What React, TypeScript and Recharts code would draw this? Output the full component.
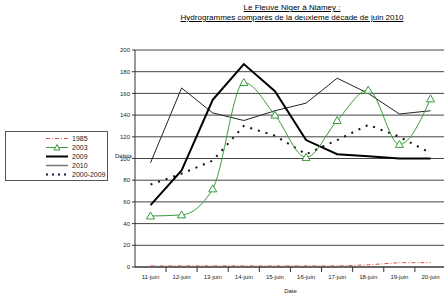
import React from 'react';
import {
  LineChart,
  Line,
  XAxis,
  YAxis,
  CartesianGrid,
} from 'recharts';

const days = [
  '11-juin', '12-juin', '13-juin', '14-juin', '15-juin',
  '16-juin', '17-juin', '18-juin', '19-juin', '20-juin',
];
const y1985 = [1, 1, 1, 1, 1, 1, 1, 2, 4, 4];
const y2003 = [47, 48, 72, 170, 140, 101, 135, 163, 113, 155];
const y2009 = [57, 89, 154, 187, 162, 117, 104, 102, 100, 100];
const y2010 = [96, 165, 142, 135, 144, 151, 174, 160, 141, 144];
const avg2000_2009 = [76, 86, 98, 130, 121, 104, 117, 131, 120, 105];
const yTicks = [0, 20, 40, 60, 80, 100, 120, 140, 160, 180, 200];

const data = days.map((d, i) => ({
  day: d,
  y1985: y1985[i],
  y2003: y2003[i],
  y2009: y2009[i],
  y2010: y2010[i],
  avg: avg2000_2009[i],
}));

const font = 'Liberation Sans, Arial, sans-serif';
const band = 31;

const Triangle = (props: any) => {
  const { cx, cy } = props;
  if (cx == null || cy == null) return null;
  return (
    <path
      d={`M${cx},${cy - 4} L${cx + 4},${cy + 3} L${cx - 4},${cy + 3} Z`}
      fill="#fff"
      stroke="#3a9a3a"
      strokeWidth={1}
    />
  );
};

const XTick = (props: any) => {
  const { x, y, payload } = props;
  return (
    <g>
      <line x1={x + band / 2} y1={y - 8} x2={x + band / 2} y2={y - 3} stroke="#333" />
      <text x={x} y={y + 4} textAnchor="middle" fontSize={6} fill="#222" fontFamily={font}>
        {payload.value}
      </text>
    </g>
  );
};

const legendItems = [
  { name: '1985', color: '#e05050', dash: '4 2 1 2', width: 1 },
  { name: '2003', color: '#3a9a3a', dash: undefined, width: 1, marker: true },
  { name: '2009', color: '#000', dash: undefined, width: 2 },
  { name: '2010', color: '#777', dash: undefined, width: 1.5 },
  { name: '2000-2009', color: '#1a1a40', dash: '2 4', width: 2 },
];

const LegendBox = () => (
  <div
    style={{
      position: 'absolute',
      left: 5,
      top: 131,
      width: 103,
      height: 50,
      border: '1px solid #555',
      background: '#fff',
      fontFamily: font,
      fontSize: 7,
      color: '#222',
      boxSizing: 'border-box',
      paddingTop: 2,
    }}
  >
    {legendItems.map((it) => (
      <div key={it.name} style={{ height: 9, display: 'flex', alignItems: 'center' }}>
        <svg width={64} height={9}>
          <line
            x1={40}
            y1={4.5}
            x2={62}
            y2={4.5}
            stroke={it.color}
            strokeWidth={it.width}
            strokeDasharray={it.dash}
          />
          {it.marker ? <path d="M51,1.5 L54,7 L48,7 Z" fill="#fff" stroke={it.color} /> : null}
        </svg>
        <span style={{ marginLeft: 2 }}>{it.name}</span>
      </div>
    ))}
  </div>
);

export default function App() {
  return (
    <div
      style={{
        position: 'absolute',
        left: 0,
        top: 0,
        width: 444,
        height: 297,
        background: '#fff',
        fontFamily: font,
        overflow: 'hidden',
      }}
    >
      <div
        style={{
          position: 'absolute',
          left: 140,
          width: 304,
          top: 3,
          textAlign: 'center',
          fontSize: 8,
          lineHeight: '10px',
          color: '#000',
          textDecoration: 'underline',
          textDecorationColor: '#000',
        }}
      >
        Le Fleuve Niger à Niamey :
        <br />
        Hydrogrammes comparés de la deuxieme décade de juin 2010
      </div>
      <LineChart
        width={446}
        height={297}
        data={data}
        margin={{ top: 50, right: 0, left: 0, bottom: 0 }}
      >
        <CartesianGrid vertical={false} stroke="#444" strokeWidth={1} />
        <XAxis
          dataKey="day"
          height={30}
          padding={{ left: band / 2, right: band / 2 }}
          tickLine={false}
          axisLine={{ stroke: '#333' }}
          interval={0}
          tick={<XTick />}
          label={{ value: 'Date', position: 'insideBottom', offset: 4, fontSize: 6, fill: '#222' }}
        />
        <YAxis
          width={135}
          domain={[0, 200]}
          ticks={yTicks}
          interval={0}
          tickSize={3}
          axisLine={{ stroke: '#333' }}
          tickLine={{ stroke: '#333' }}
          tick={{ fontSize: 6, fill: '#222', fontFamily: font }}
          label={{ value: 'Débits', position: 'insideRight', dx: 2, dy: -3, fontSize: 6, fill: '#222' }}
        />
        <Line
          dataKey="y1985"
          name="1985"
          type="linear"
          stroke="#e05050"
          strokeWidth={1}
          strokeDasharray="4 2 1 2"
          dot={false}
          isAnimationActive={false}
        />
        <Line
          dataKey="y2010"
          name="2010"
          type="linear"
          stroke="#222"
          strokeWidth={1}
          dot={false}
          isAnimationActive={false}
        />
        <Line
          dataKey="avg"
          name="2000-2009"
          type="linear"
          stroke="#111"
          strokeWidth={2}
          strokeDasharray="2 6"
          dot={false}
          isAnimationActive={false}
        />
        <Line
          dataKey="y2009"
          name="2009"
          type="linear"
          stroke="#000"
          strokeWidth={2}
          dot={false}
          isAnimationActive={false}
        />
        <Line
          dataKey="y2003"
          name="2003"
          type="monotone"
          stroke="#3a9a3a"
          strokeWidth={1}
          dot={<Triangle />}
          isAnimationActive={false}
        />
      </LineChart>
      <LegendBox />
    </div>
  );
}
